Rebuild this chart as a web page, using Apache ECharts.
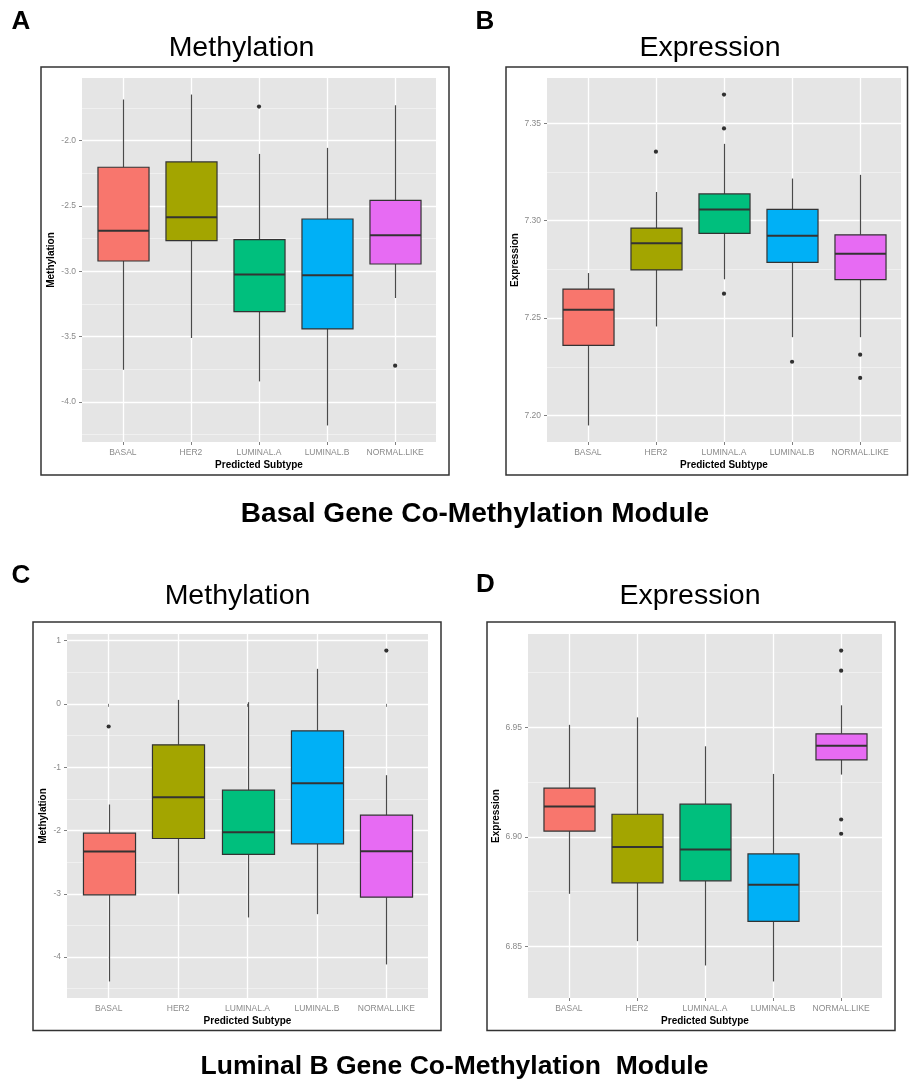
<!DOCTYPE html>
<html>
<head>
<meta charset="utf-8">
<script src="https://cdn.jsdelivr.net/npm/echarts@6/dist/echarts.min.js"></script>
<style>
  html, body { margin: 0; padding: 0; background: #fff; }
  #chart { width: 909px; height: 1084px; }
</style>
</head>
<body>
<div id="chart"></div>
<script>
// ---------------- DATA ----------------
const categories = ['BASAL', 'HER2', 'LUMINAL.A', 'LUMINAL.B', 'NORMAL.LIKE'];

// box stats per subtype: [lower whisker, Q1, median, Q3, upper whisker]
const basalMethylationStats = [
  [-3.753, -2.921, -2.689, -2.204, -1.686],
  [-3.510, -2.765, -2.587, -2.163, -1.648],
  [-3.842, -3.309, -3.025, -2.758, -2.102],
  [-4.179, -3.441, -3.031, -2.600, -2.056],
  [-3.204, -2.944, -2.724, -2.457, -1.730]
];
const basalMethylationOutliers = [['LUMINAL.A', -1.740], ['NORMAL.LIKE', -3.722]];

const basalExpressionStats = [
  [7.1949, 7.2360, 7.2543, 7.2649, 7.2731],
  [7.2457, 7.2747, 7.2884, 7.2962, 7.3147],
  [7.2699, 7.2935, 7.3057, 7.3137, 7.3394],
  [7.2402, 7.2786, 7.2923, 7.3058, 7.3216],
  [7.2402, 7.2697, 7.2830, 7.2927, 7.3235]
];
const basalExpressionOutliers = [
  ['HER2', 7.3354], ['LUMINAL.A', 7.3647], ['LUMINAL.A', 7.3473], ['LUMINAL.A', 7.2625],
  ['LUMINAL.B', 7.2276], ['NORMAL.LIKE', 7.2312], ['NORMAL.LIKE', 7.2193]
];

const lumBMethylationStats = [
  [-4.385, -3.016, -2.332, -2.043, -1.590],
  [-3.000, -2.127, -1.474, -0.647, 0.063],
  [-3.374, -2.379, -2.027, -1.364, 0.026],
  [-3.322, -2.211, -1.253, -0.426, 0.553],
  [-4.116, -3.053, -2.327, -1.759, -1.127]
];
const lumBMethylationOutliers = [['BASAL', -0.358], ['NORMAL.LIKE', 0.842]];

const lumBExpressionStats = [
  [6.8740, 6.9026, 6.9138, 6.9222, 6.9511],
  [6.8524, 6.8790, 6.8953, 6.9103, 6.9545],
  [6.8413, 6.8799, 6.8942, 6.9149, 6.9413],
  [6.8340, 6.8614, 6.8781, 6.8922, 6.9287],
  [6.9284, 6.9351, 6.9415, 6.9470, 6.9600]
];
const lumBExpressionOutliers = [
  ['NORMAL.LIKE', 6.9850], ['NORMAL.LIKE', 6.9758], ['NORMAL.LIKE', 6.9079], ['NORMAL.LIKE', 6.9014]
];

// tick labels
const yTickLabelsA = ['-4.0', '-3.5', '-3.0', '-2.5', '-2.0'];
const yTickLabelsB = ['7.20', '7.25', '7.30', '7.35'];
const yTickLabelsC = ['-4', '-3', '-2', '-1', '0', '1'];
const yTickLabelsD = ['6.85', '6.90', '6.95'];

const panelTitles = ['Methylation', 'Expression', 'Methylation', 'Expression'];
const panelLetters = ['A', 'B', 'C', 'D'];
const yAxisTitles = ['Methylation', 'Expression', 'Methylation', 'Expression'];
const xAxisTitle = 'Predicted Subtype';
const moduleCaptions = ['Basal Gene Co-Methylation Module', 'Luminal B Gene Co-Methylation  Module'];

// ---------------- STYLE / LAYOUT ----------------
const boxColors = ['#F8766D', '#A3A500', '#00BF7D', '#00B0F6', '#E76BF3'];
const FONT = "'Liberation Sans', Arial, Helvetica, sans-serif";

const panels = [
  { stats: basalMethylationStats, outliers: basalMethylationOutliers, ticks: yTickLabelsA,
    grid: { left: 82, top: 78, width: 354, height: 364 }, frame: [41, 67, 408, 408], nameGap: 26,
    title: [241.5, 48.5], letter: [21, 22] },
  { stats: basalExpressionStats, outliers: basalExpressionOutliers, ticks: yTickLabelsB,
    grid: { left: 547, top: 78, width: 354, height: 364 }, frame: [506, 67, 401.5, 408], nameGap: 24,
    title: [710, 48.5], letter: [485, 22] },
  { stats: lumBMethylationStats, outliers: lumBMethylationOutliers, ticks: yTickLabelsC,
    grid: { left: 67, top: 634, width: 361, height: 364 }, frame: [33, 622, 408, 408.5], nameGap: 19,
    title: [237.5, 596.5], letter: [21, 575.5] },
  { stats: lumBExpressionStats, outliers: lumBExpressionOutliers, ticks: yTickLabelsD,
    grid: { left: 528, top: 634, width: 354, height: 364 }, frame: [487, 622, 408, 408.5], nameGap: 25,
    title: [690, 596.5], letter: [485.5, 585] }
];

function yRange(stats, outliers) {
  const vals = [];
  stats.forEach(s => vals.push(...s));
  outliers.forEach(o => vals.push(o[1]));
  const lo = Math.min(...vals), hi = Math.max(...vals);
  const pad = (hi - lo) * 0.05;
  return [lo - pad, hi + pad];
}

function renderBox(params, api) {
  const x = api.value(0);
  const lo = api.coord([x, api.value(1)]);
  const q1 = api.coord([x, api.value(2)]);
  const md = api.coord([x, api.value(3)]);
  const q3 = api.coord([x, api.value(4)]);
  const hi = api.coord([x, api.value(5)]);
  const w = api.size([0.75, 0], [x, api.value(3)])[0];
  const cx = Math.round(lo[0]) + 0.5;
  return {
    type: 'group',
    children: [
      { type: 'line', shape: { x1: cx, y1: hi[1], x2: cx, y2: q3[1] }, style: { stroke: '#4a4a4a', lineWidth: 1.2 } },
      { type: 'line', shape: { x1: cx, y1: q1[1], x2: cx, y2: lo[1] }, style: { stroke: '#4a4a4a', lineWidth: 1.2 } },
      { type: 'rect', shape: { x: cx - w / 2, y: q3[1], width: w, height: q1[1] - q3[1] },
        style: { fill: boxColors[params.dataIndex], stroke: '#333', lineWidth: 1.2 } },
      { type: 'line', shape: { x1: cx - w / 2, y1: md[1], x2: cx + w / 2, y2: md[1] }, style: { stroke: '#333', lineWidth: 2 } }
    ]
  };
}

const grids = [], xAxes = [], yAxes = [], series = [], graphics = [];
const catPositions = categories.map((c, i) => i + 1);

panels.forEach((p, i) => {
  const [ymin, ymax] = yRange(p.stats, p.outliers);
  const majorVals = p.ticks.map(Number);
  const step = majorVals[1] - majorVals[0];
  const minorVals = majorVals.map(v => v - step / 2).concat([majorVals[majorVals.length - 1] + step / 2])
    .filter(v => v > ymin && v < ymax);

  grids.push(Object.assign({ show: true, backgroundColor: '#E5E5E5', borderWidth: 0 }, p.grid));

  xAxes.push({
    gridIndex: i, type: 'value', min: 0.4, max: 5.6,
    axisLine: { show: false },
    axisTick: { show: true, length: 3, customValues: catPositions, lineStyle: { color: '#7f7f7f', width: 1 } },
    axisLabel: { customValues: catPositions, formatter: v => categories[Math.round(v) - 1],
      color: '#8a8a8a', fontSize: 8.5, margin: 6, fontFamily: FONT },
    splitLine: { show: true, lineStyle: { color: '#ffffff', width: 1.3 } },
    name: xAxisTitle, nameLocation: 'middle', nameGap: 18,
    nameTextStyle: { fontWeight: 'bold', fontSize: 10, color: '#000', fontFamily: FONT, verticalAlign: 'top' }
  });

  yAxes.push({
    gridIndex: i, type: 'value', min: ymin, max: ymax, position: 'left',
    axisLine: { show: false },
    axisTick: { show: true, length: 3, customValues: majorVals, lineStyle: { color: '#7f7f7f', width: 1 } },
    axisLabel: { customValues: majorVals,
      formatter: v => p.ticks[majorVals.findIndex(t => Math.abs(t - v) < 1e-9)],
      color: '#8a8a8a', fontSize: 8.5, margin: 6, fontFamily: FONT },
    splitLine: { show: true, lineStyle: { color: '#ffffff', width: 1.3 } },
    name: yAxisTitles[i], nameLocation: 'middle', nameGap: p.nameGap, nameRotate: 90,
    nameTextStyle: { fontWeight: 'bold', fontSize: 10, color: '#000', fontFamily: FONT }
  });
  yAxes.push({
    gridIndex: i, type: 'value', min: ymin, max: ymax, position: 'left',
    axisLine: { show: false },
    axisTick: { show: false, customValues: minorVals },
    axisLabel: { show: false, customValues: minorVals },
    splitLine: { show: true, lineStyle: { color: '#F2F2F2', width: 0.8 } }
  });

  series.push({
    type: 'custom', xAxisIndex: i, yAxisIndex: 2 * i, renderItem: renderBox, clip: true,
    encode: { x: 0, y: [1, 2, 3, 4, 5] },
    data: p.stats.map((s, k) => [k + 1].concat(s)), z: 3
  });
  series.push({
    type: 'scatter', xAxisIndex: i, yAxisIndex: 2 * i, symbolSize: 4.2,
    itemStyle: { color: '#000' }, z: 4,
    data: p.outliers.map(o => [categories.indexOf(o[0]) + 1, o[1]])
  });

  const f = p.frame;
  graphics.push({ type: 'rect', shape: { x: f[0], y: f[1], width: f[2], height: f[3] },
    style: { fill: 'none', stroke: '#333', lineWidth: 1.5 }, z: 10 });
  graphics.push({ type: 'text', x: p.title[0], y: p.title[1],
    style: { text: panelTitles[i], font: '28.5px ' + FONT, fill: '#000', textAlign: 'center', textVerticalAlign: 'middle' } });
  graphics.push({ type: 'text', x: p.letter[0], y: p.letter[1],
    style: { text: panelLetters[i], font: 'bold 26px ' + FONT, fill: '#000', textAlign: 'center', textVerticalAlign: 'middle' } });
});

graphics.push({ type: 'text', x: 475, y: 514.5,
  style: { text: moduleCaptions[0], font: 'bold 28px ' + FONT, fill: '#000', textAlign: 'center', textVerticalAlign: 'middle' } });
graphics.push({ type: 'text', x: 454.5, y: 1066.5,
  style: { text: moduleCaptions[1], font: 'bold 26.5px ' + FONT, fill: '#000', textAlign: 'center', textVerticalAlign: 'middle' } });

const chart = echarts.init(document.getElementById('chart'), null, { renderer: 'canvas' });
chart.setOption({
  backgroundColor: '#ffffff',
  animation: false,
  textStyle: { fontFamily: FONT },
  grid: grids,
  xAxis: xAxes,
  yAxis: yAxes,
  series: series,
  graphic: graphics
});
</script>
</body>
</html>
